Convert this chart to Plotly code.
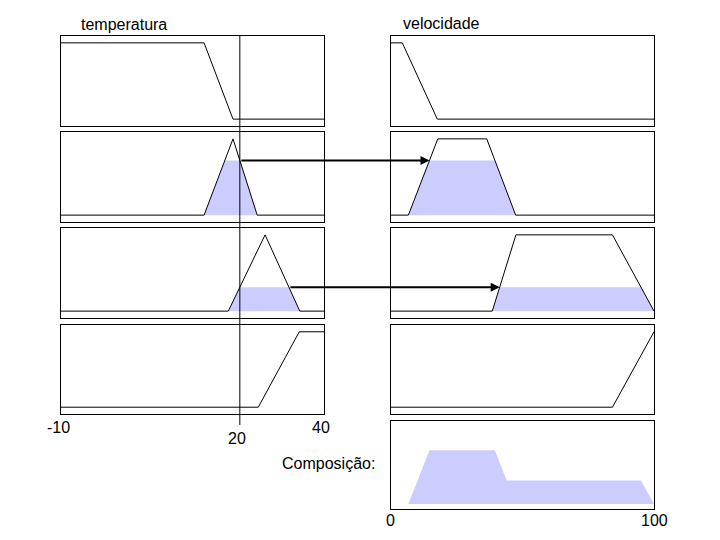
import numpy as np
import plotly.graph_objects as go

# ---------------- data ----------------
temp_range = [-10, 40]
vel_range = [0, 100]
temp_input = 24            # crisp input position (labelled "20" in the drawing)

# temperature membership functions (breakpoints)
temp_x = [
    [-10, 17.2, 22.7, 40],
    [-10, 17.2, 22.7, 27.3, 40],
    [-10, 21.8, 28.8, 35.4, 40],
    [-10, 27.5, 35.3, 40],
]
temp_y = [
    [1, 1, 0, 0],
    [0, 0, 1, 0, 0],
    [0, 0, 1, 0, 0],
    [0, 0, 1, 1],
]
# velocity membership functions
vel_x = [
    [0, 4.3, 17.6, 100],
    [0, 6.6, 17.8, 36.4, 47.4, 100],
    [0, 38.5, 47.5, 84.2, 100],
    [0, 84.2, 100],
]
vel_y = [
    [1, 1, 0, 0],
    [0, 0, 1, 1, 0, 0],
    [0, 0, 1, 1, 0],
    [0, 0, 1],
]
fired_rules = [1, 2]   # rows (0-based) whose rules fire

titles = ["temperatura", "velocidade", "Composição:"]
temp_tick_text = ["-10", "20", "40"]
vel_tick_text = ["0", "100"]

# ---------------- layout constants (pixels) ----------------
W, H = 720, 540
LEFT = (61, 324)
RIGHT = (391, 654)
ROWS = [(36, 126), (132, 222), (228, 318), (325, 414)]
COMP = (421, 509)
FILL = "#ccccff"


def crossings(xs, ys, level):
    out = []
    for i in range(len(xs) - 1):
        y0, y1 = ys[i], ys[i + 1]
        if (y0 - level) * (y1 - level) < 0:
            out.append(xs[i] + (level - y0) / (y1 - y0) * (xs[i + 1] - xs[i]))
    return out


def clipped(xs, ys, level):
    cx = sorted(set(list(xs) + crossings(xs, ys, level)))
    cy = np.minimum(np.interp(cx, xs, ys), level)
    return cx, list(cy)


def px_left(t):
    return LEFT[0] + (t - temp_range[0]) / (temp_range[1] - temp_range[0]) * (LEFT[1] - LEFT[0])


def px_right(v):
    return RIGHT[0] + (v - vel_range[0]) / (vel_range[1] - vel_range[0]) * (RIGHT[1] - RIGHT[0])


fig = go.Figure()
layout = dict(width=W, height=H, autosize=False,
              margin=dict(l=0, r=0, t=0, b=0, pad=0),
              paper_bgcolor="white", plot_bgcolor="white",
              showlegend=False, font=dict(family="Liberation Sans, Arial", color="black"))

axis_style = dict(showline=True, mirror=True, linecolor="black", linewidth=1,
                  showgrid=False, zeroline=False, showticklabels=False, ticks="",
                  fixedrange=True)


def add_axes(n, xdom, ydom, xr, yr):
    layout["xaxis" + ("" if n == 1 else str(n))] = dict(
        domain=[xdom[0] / W, xdom[1] / W], range=xr, anchor="y" + str(n), **axis_style)
    layout["yaxis" + ("" if n == 1 else str(n))] = dict(
        domain=[1 - ydom[1] / H, 1 - ydom[0] / H], range=yr, anchor="x" + str(n), **axis_style)


yr = [-0.09, 1.09]
for r in range(4):
    add_axes(r + 1, LEFT, ROWS[r], temp_range, yr)
    add_axes(r + 5, RIGHT, ROWS[r], vel_range, yr)
add_axes(9, RIGHT, COMP, vel_range, [-0.067, 1.107])

mu = [float(np.interp(temp_input, temp_x[r], temp_y[r])) for r in range(4)]

# fills
for r in fired_rules:
    cx, cy = clipped(temp_x[r], temp_y[r], mu[r])
    fig.add_trace(go.Scatter(x=cx, y=cy, fill="tozeroy", fillcolor=FILL, mode="lines",
                             line=dict(width=0), xaxis="x%d" % (r + 1), yaxis="y%d" % (r + 1),
                             hoverinfo="skip"))
    vx, vy = clipped(vel_x[r], vel_y[r], mu[r])
    fig.add_trace(go.Scatter(x=vx, y=vy, fill="tozeroy", fillcolor=FILL, mode="lines",
                             line=dict(width=0), xaxis="x%d" % (r + 5), yaxis="y%d" % (r + 5),
                             hoverinfo="skip"))

# membership lines
for r in range(4):
    fig.add_trace(go.Scatter(x=temp_x[r], y=temp_y[r], mode="lines",
                             line=dict(color="black", width=1),
                             xaxis="x%d" % (r + 1), yaxis="y%d" % (r + 1)))
    fig.add_trace(go.Scatter(x=vel_x[r], y=vel_y[r], mode="lines",
                             line=dict(color="black", width=1),
                             xaxis="x%d" % (r + 5), yaxis="y%d" % (r + 5)))

# composition (max of clipped output sets)
cand = []
for r in fired_rules:
    cand += vel_x[r]
    for q in fired_rules:
        cand += crossings(vel_x[r], vel_y[r], mu[q])
cand = sorted(set(cand))
agg = np.zeros(len(cand))
for r in fired_rules:
    agg = np.maximum(agg, np.minimum(np.interp(cand, vel_x[r], vel_y[r]), mu[r]))
fig.add_trace(go.Scatter(x=cand, y=list(agg), fill="tozeroy", fillcolor=FILL, mode="lines",
                         line=dict(width=0), xaxis="x9", yaxis="y9", hoverinfo="skip"))

# vertical input line
shapes = [dict(type="line", xref="x", yref="paper", x0=temp_input, x1=temp_input,
               y0=1 - 425 / H, y1=1 - ROWS[0][0] / H, line=dict(color="black", width=1))]

annotations = []
# arrows from antecedent to consequent
for r in fired_rules:
    falls = crossings(temp_x[r], temp_y[r], mu[r])
    tail_t = falls[-1]
    tip_v = crossings(vel_x[r], vel_y[r], mu[r])[0]
    ax = px_left(tail_t) - px_right(tip_v)
    annotations.append(dict(x=tip_v, y=mu[r], xref="x%d" % (r + 5), yref="y%d" % (r + 5),
                            ax=ax, ay=0, axref="pixel", ayref="pixel", text="",
                            showarrow=True, arrowhead=2, arrowsize=0.9, arrowwidth=2,
                            arrowcolor="black", standoff=0))

tfont = dict(size=16, color="black", family="Liberation Sans, Arial")
annotations += [
    dict(text=titles[0], x=79 / W, y=1 - 25 / H, xref="paper", yref="paper",
         xanchor="left", yanchor="middle", showarrow=False, font=tfont),
    dict(text=titles[1], x=401 / W, y=1 - 23 / H, xref="paper", yref="paper",
         xanchor="left", yanchor="middle", showarrow=False, font=tfont),
    dict(text=titles[2], x=377 / W, y=1 - 463 / H, xref="paper", yref="paper",
         xanchor="right", yanchor="middle", showarrow=False, font=tfont),
]
temp_tick_pos = [temp_range[0], temp_input, temp_range[1]]
temp_tick_y = [427, 438, 427]
for v, t, py in zip(temp_tick_pos, temp_tick_text, temp_tick_y):
    annotations.append(dict(text=t, x=v, xref="x4", y=1 - py / H, yref="paper",
                            xanchor="center", yanchor="middle", showarrow=False,
                            xshift=-3, font=tfont))
for v, t in zip(vel_range, vel_tick_text):
    annotations.append(dict(text=t, x=v, xref="x9", y=1 - 520 / H, yref="paper",
                            xanchor="center", yanchor="middle", showarrow=False,
                            font=tfont))

layout["shapes"] = shapes
layout["annotations"] = annotations
fig.update_layout(**layout)
fig.write_html("out.html", config={"displayModeBar": False},
               post_script="document.body.style.margin='0';document.body.style.padding='0';")
